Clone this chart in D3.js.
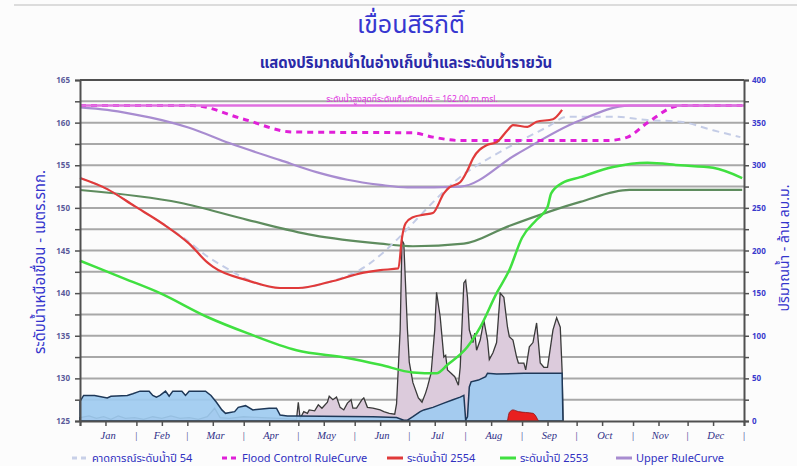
<!DOCTYPE html>
<meta charset="utf-8">
<html>
<head>
<style>
  body { margin: 0; background: #fcfcfc; }
  text { font-family: "Noto Sans Thai", Tahoma, "DejaVu Sans", sans-serif; }
</style>
<script src="https://d3js.org/d3.v7.min.js"></script>
</head>
<body>
<script>
// x values are day of year (2011 / 2554)
var months = ["Jan","Feb","Mar","Apr","May","Jun","Jul","Aug","Sep","Oct","Nov","Dec"];
var monthDays = [31,28,31,30,31,30,31,31,30,31,30,31];

// water levels, m.msl (left axis)
var upperRule = [[0,161.8],[15,161.5],[29,161.0],[45,160.3],[60,159.4],[82,157.6],[110,155.6],[130,154.2],[147,153.3],[165,152.7],[180,152.4],[209,152.5],[240,156.3],[273,160.1],[302,162.0],[364,162.0]];
var floodRule = [[0,162],[62,162],[90,160.4],[117,158.9],[183,158.8],[194,158.3],[209,157.9],[290,157.9],[301,158.3],[312,160.0],[330,162],[364,162]];
var level2554 = [[0,153.5],[15,152.2],[30,150.2],[45,148.2],[60,145.8],[70,143.6],[73,143.1],[92,141.5],[110,140.6],[120,140.6],[137,141.3],[156,142.4],[165,142.7],[175,142.9],[177,146.5],[179,148.2],[183,148.9],[189,149.2],[194,149.4],[200,151.7],[203,152.4],[209,153.0],[213,154.4],[216,155.8],[224,157.4],[229,157.7],[235,159.1],[238,159.7],[246,159.5],[251,160.1],[260,160.4],[265,161.5]];
var forecast54 = [[0,153.5],[15,152.2],[30,150.2],[45,148.2],[60,146.0],[70,144.3],[80,143.0],[92,141.6],[110,140.6],[120,140.6],[137,141.3],[150,142.3],[214,154.4],[238,157.4],[257,159.5],[268,160.7],[293,160.7],[312,160.3],[330,160.1],[348,159.1],[363,158.3]];
var level2553 = [[0,143.8],[22,141.9],[44,140.0],[70,137.2],[92,135.3],[119,133.3],[147,132.4],[165,131.6],[183,130.7],[196,130.6],[202,131.6],[213,133.7],[220,136.0],[229,140.0],[236,142.7],[243,146.5],[251,148.6],[257,150.1],[259,151.7],[265,152.9],[275,153.6],[293,154.8],[312,155.3],[330,155.0],[348,154.7],[364,153.5]];
var lowerRule = [[0,152.1],[55,150.6],[92,148.6],[128,146.8],[165,145.8],[183,145.5],[211,145.8],[235,147.8],[275,150.7],[302,152.1],[364,152.1]];
var normalLevel = 162.0;

// volumes, million m3 (right axis)
var inflow = [[0,4],[5,6],[9,3],[13,5],[17,2],[21,6],[25,3],[30,4],[35,2],[40,5],[45,3],[50,6],[55,3],[60,4],[65,2],[70,5],[74,15],[77,4],[82,3],[90,5],[100,4],[110,3],[119,2],[120,22],[121,3],[123,11],[125,9],[126,13],[129,12],[131,19],[133,15],[136,22],[137,29],[139,25],[141,28],[143,16],[145,13],[147,21],[149,25],[150,15],[152,15],[155,25],[156,27],[158,16],[161,15],[165,13],[167,11],[170,9],[173,8],[174,20],[176,107],[177,212],[178,208],[180,107],[181,69],[183,45],[186,27],[188,22],[190,33],[191,40],[193,56],[195,107],[196,151],[198,122],[200,75],[201,77],[202,60],[204,56],[206,52],[208,42],[209,63],[211,162],[212,165],[213,145],[214,107],[216,92],[217,103],[218,83],[220,95],[222,118],[224,95],[225,72],[227,80],[229,92],[231,150],[233,145],[235,110],[236,99],[238,95],[240,75],[241,68],[244,68],[245,60],[247,87],[249,92],[251,115],[252,92],[253,68],[255,63],[257,63],[260,107],[262,121],[264,110],[265,60],[265.5,0]];
var outflow = [[0,23],[2,30],[8,30],[15,27],[17,29],[26,30],[29,32],[33,35],[38,35],[40,30],[42,28],[44,30],[47,35],[49,29],[51,35],[56,35],[58,30],[60,35],[69,35],[72,30],[75,22],[78,13],[80,9],[85,11],[87,16],[91,18],[95,13],[104,15],[108,15],[110,7],[114,6],[119,6],[161,5],[174,4],[178,1],[180,1],[183,5],[187,11],[189,13],[194,16],[200,21],[205,25],[209,28],[211,30],[212,1],[213,5],[214,40],[215,46],[219,48],[223,52],[224,56],[229,55],[244,56],[265,56],[265.5,0]];
var spill = [[235,0],[236,10],[238,13],[241,11],[245,10],[249,9],[252,0]];

var legendItems = [
  {name: "คาดการณ์ระดับน้ำปี 54", color: "#c8d0e8", dash: "5,4", x: 72},
  {name: "Flood Control RuleCurve", color: "#e020d8", dash: "5,4", x: 222},
  {name: "ระดับน้ำปี 2554", color: "#e03a3a", dash: null, x: 387},
  {name: "ระดับน้ำปี 2553", color: "#40e040", dash: null, x: 500},
  {name: "Upper RuleCurve", color: "#a88cd0", dash: null, x: 616}
];

var width = 797, height = 466;
var plotLeft = 80, plotRight = 744, plotTop = 80, plotBottom = 421;

var svg = d3.select("body").append("svg")
    .attr("width", width)
    .attr("height", height);

svg.append("rect").attr("width", width).attr("height", height).attr("fill", "#fcfcfc");
svg.append("line").attr("x1", 14).attr("x2", width).attr("y1", 5).attr("y2", 5)
    .attr("stroke", "#dcdcdc").attr("stroke-width", 2);

var x = d3.scaleLinear().domain([0, 365]).range([plotLeft, plotRight]);
var yL = d3.scaleLinear().domain([125, 165]).range([plotBottom, plotTop]);
var yR = d3.scaleLinear().domain([0, 400]).range([plotBottom, plotTop]);

// titles
svg.append("text").attr("x", 411).attr("y", 33).attr("text-anchor", "middle")
    .attr("font-size", 25).attr("fill", "#3636d0").text("เขื่อนสิริกิติ์");
svg.append("text").attr("x", 406).attr("y", 68).attr("text-anchor", "middle")
    .attr("font-size", 15).attr("font-weight", "bold").attr("fill", "#2a2aa8")
    .text("แสดงปริมาณน้ำในอ่างเก็บน้ำและระดับน้ำรายวัน");

// grid lines
svg.append("g").selectAll("line")
  .data(d3.range(25, 400, 25))
  .enter().append("line")
    .attr("x1", plotLeft).attr("x2", plotRight)
    .attr("y1", function(d) { return yR(d); })
    .attr("y2", function(d) { return yR(d); })
    .attr("stroke", "#a8a8a8").attr("stroke-width", 2);

// bottom areas
var area = d3.area()
    .x(function(d) { return x(d[0]); })
    .y0(yR(0))
    .y1(function(d) { return yR(d[1]); });

svg.append("path").datum(inflow)
    .attr("d", area).attr("fill", "#dccbdc")
    .attr("stroke", "#3a3a3a").attr("stroke-width", 1.3);
svg.append("path").datum(outflow)
    .attr("d", area).attr("fill", "#9ecbf0").attr("fill-opacity", 0.92)
    .attr("stroke", "#1e3858").attr("stroke-width", 1.5);
svg.append("path").datum(spill)
    .attr("d", area.curve(d3.curveMonotoneX)).attr("fill", "#e82020")
    .attr("stroke", "#901010").attr("stroke-width", 0.8);

// level lines
var line = d3.line()
    .x(function(d) { return x(d[0]); })
    .y(function(d) { return yL(d[1]); })
    .curve(d3.curveMonotoneX);

function drawLine(data, color, w, dash) {
  svg.append("path").datum(data)
    .attr("d", line)
    .attr("fill", "none")
    .attr("stroke", color)
    .attr("stroke-width", w)
    .attr("stroke-dasharray", dash);
}

drawLine(lowerRule, "#5e8c5e", 2.2, null);
drawLine(forecast54, "#c4cce6", 2, "7,5");
drawLine(upperRule, "#a88cd0", 2.2, null);
drawLine(floodRule, "#e020d8", 3, "6,5");
drawLine(level2553, "#40e040", 2.5, null);
drawLine(level2554, "#e03a3a", 2.2, null);

// normal storage level
svg.append("line")
    .attr("x1", plotLeft).attr("x2", plotRight)
    .attr("y1", yL(normalLevel)).attr("y2", yL(normalLevel))
    .attr("stroke", "#e070e0").attr("stroke-width", 2.5);
svg.append("text").attr("x", 412).attr("y", yL(normalLevel) - 4)
    .attr("text-anchor", "middle").attr("font-size", 8.5).attr("fill", "#e030e0")
    .text("ระดับน้ำสูงสุดที่ระดับเก็บกักปกติ = " + normalLevel.toFixed(2) + " m.msl.");

// frame
svg.append("line").attr("x1", plotLeft).attr("x2", plotRight).attr("y1", plotTop).attr("y2", plotTop)
    .attr("stroke", "#505050").attr("stroke-width", 2);

// axes
var axL = svg.append("g").attr("transform", "translate(" + plotLeft + ",0)")
    .call(d3.axisLeft(yL).tickValues(d3.range(125, 166, 2.5)).tickSize(5)
      .tickFormat(function(d) { return d % 5 == 0 ? d : ""; }));
var axR = svg.append("g").attr("transform", "translate(" + plotRight + ",0)")
    .call(d3.axisRight(yR).tickValues(d3.range(0, 401, 25)).tickSize(5)
      .tickFormat(function(d) { return d % 50 == 0 ? d : ""; }));
[axL, axR].forEach(function(ax) {
  ax.select(".domain").attr("stroke", "#505050").attr("stroke-width", 2);
  ax.selectAll(".tick line").attr("stroke", "#505050").attr("stroke-width", 1.5);
  ax.selectAll(".tick text").attr("font-size", 8).attr("font-weight", "bold");
});
axL.selectAll(".tick text").attr("fill", "#5a5a9a").attr("x", -10);
axR.selectAll(".tick text").attr("fill", "#3a3acc").attr("x", 8);

// x axis with month boundaries and mid-month ticks
var monthStart = [0].concat(Array.from(d3.cumsum(monthDays)));
var xTicks = [];
months.forEach(function(m, i) { xTicks.push(monthStart[i]); xTicks.push(monthStart[i] + 14); });
xTicks.push(365);

var axB = svg.append("g").attr("transform", "translate(0," + plotBottom + ")")
    .call(d3.axisBottom(x).tickValues(xTicks).tickSize(5).tickFormat(""));
axB.select(".domain").attr("stroke", "#505050").attr("stroke-width", 2);
axB.selectAll(".tick line").attr("stroke", "#505050").attr("stroke-width", 1.5);

var monthLabels = svg.append("g").attr("font-size", 10.5).attr("fill", "#303088");
months.forEach(function(m, i) {
  monthLabels.append("text")
    .attr("x", x(monthStart[i] + monthDays[i] / 2)).attr("y", 439)
    .attr("text-anchor", "middle")
    .style("font-family", "Liberation Serif, serif").style("font-style", "italic")
    .text(m);
  monthLabels.append("text")
    .attr("x", x(monthStart[i + 1])).attr("y", 439)
    .attr("text-anchor", "middle")
    .style("font-family", "Liberation Serif, serif")
    .text("|");
});

// axis titles
svg.append("text")
    .attr("transform", "translate(45,262) rotate(-90)")
    .attr("text-anchor", "middle").attr("font-size", 15).attr("fill", "#3434cc")
    .text("ระดับน้ำเหนือเขื่อน - เมตร.รทก.");
svg.append("text")
    .attr("transform", "translate(789,248) rotate(-90)")
    .attr("text-anchor", "middle").attr("font-size", 14).attr("fill", "#3434cc")
    .text("ปริมาณน้ำ - ล้าน ลบ.ม.");

// legend
var legend = svg.append("g").attr("transform", "translate(0,458)");
legendItems.forEach(function(d) {
  legend.append("line")
    .attr("x1", d.x).attr("x2", d.x + 16).attr("y1", 0).attr("y2", 0)
    .attr("stroke", d.color).attr("stroke-width", 3)
    .attr("stroke-dasharray", d.dash);
  legend.append("text")
    .attr("x", d.x + 20).attr("y", 4)
    .attr("font-size", 11).attr("fill", "#3030c0")
    .text(d.name);
});
</script>
</body>
</html>
